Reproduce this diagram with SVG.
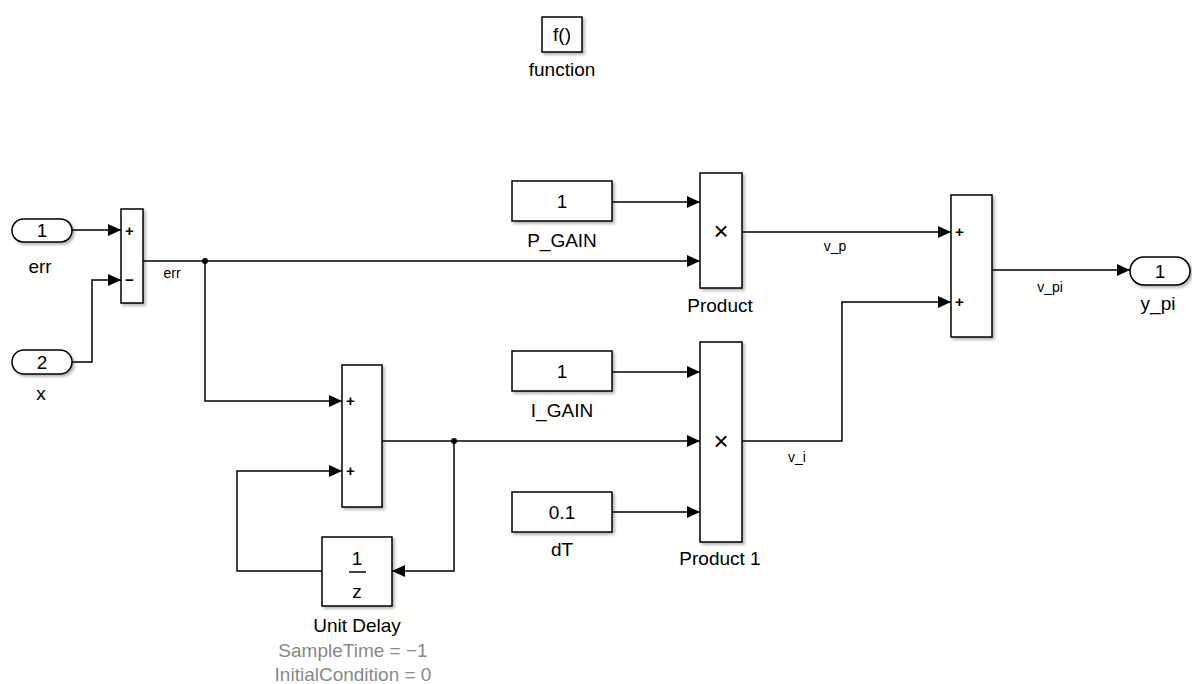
<svg xmlns="http://www.w3.org/2000/svg" width="1192" height="684" viewBox="0 0 1192 684">
<style>
.blk{fill:#fff;stroke:#000;stroke-width:1.5;filter:url(#sh)}
.w{fill:none;stroke:#000;stroke-width:1.5}
.t{font-family:"Liberation Sans",Arial,sans-serif;font-size:19px;fill:#000;text-anchor:middle}
.x{font-family:"Liberation Sans",Arial,sans-serif;font-size:26px;fill:#000;text-anchor:middle}
.s{font-family:"Liberation Sans",Arial,sans-serif;font-size:14px;fill:#000;text-anchor:middle}
.g{font-family:"Liberation Sans",Arial,sans-serif;font-size:19px;fill:#888;text-anchor:middle}
.p{font-family:"Liberation Sans",Arial,sans-serif;font-size:15px;fill:#000;text-anchor:start;font-weight:bold}
</style>
<defs>
<filter id="sh" x="-20%" y="-20%" width="140%" height="140%">
<feDropShadow dx="2" dy="2" stdDeviation="1.5" flood-color="#000" flood-opacity="0.3"/>
</filter>
<marker id="ar" markerUnits="userSpaceOnUse" markerWidth="14" markerHeight="12" refX="13" refY="6" orient="auto">
<path d="M0,0 L13,6 L0,12 Z" fill="#000"/>
</marker>
</defs>
<rect width="1192" height="684" fill="#fff"/>

<g id="connectors">
<path class="w" d="M72,230 H121" marker-end="url(#ar)"/>
<path class="w" d="M72,362 H92 V280 H121" marker-end="url(#ar)"/>
<path class="w" d="M143,261 H700" marker-end="url(#ar)"/>
<path class="w" d="M205,261 V401 H342" marker-end="url(#ar)"/>
<path class="w" d="M382,441 H700" marker-end="url(#ar)"/>
<path class="w" d="M454,441 V571 H392" marker-end="url(#ar)"/>
<path class="w" d="M322,571 H237 V471 H342" marker-end="url(#ar)"/>
<path class="w" d="M612,202 H700" marker-end="url(#ar)"/>
<path class="w" d="M612,372 H700" marker-end="url(#ar)"/>
<path class="w" d="M612,512 H700" marker-end="url(#ar)"/>
<path class="w" d="M742,232 H951" marker-end="url(#ar)"/>
<path class="w" d="M742,441 H842 V302 H951" marker-end="url(#ar)"/>
<path class="w" d="M992,270 H1130" marker-end="url(#ar)"/>
<circle cx="205" cy="261" r="3" fill="#000"/>
<circle cx="454" cy="441" r="3" fill="#000"/>
<text class="s" x="172" y="278">err</text>
<text class="s" x="835" y="251">v_p</text>
<text class="s" x="797" y="462">v_i</text>
<text class="s" x="1050" y="292">v_pi</text>
</g>

<g id="function">
<rect class="blk" x="542" y="17" width="40" height="35"/>
<text class="t" x="562" y="41">f()</text>
<text class="t" x="562" y="76">function</text>
</g>

<g id="in_err">
<rect class="blk" x="12" y="219" width="60" height="23" rx="11.5"/>
<text class="t" x="42" y="237">1</text>
<text class="t" x="40" y="273">err</text>
</g>

<g id="in_x">
<rect class="blk" x="12" y="350" width="60" height="24" rx="12"/>
<text class="t" x="42" y="369">2</text>
<text class="t" x="41" y="400">x</text>
</g>

<g id="sum1">
<rect class="blk" x="121" y="209" width="22" height="94"/>
<text class="p" x="125" y="236">+</text>
<text class="p" x="125" y="285">−</text>
</g>

<g id="sum2">
<rect class="blk" x="342" y="365" width="40" height="142"/>
<text class="p" x="346" y="406">+</text>
<text class="p" x="346" y="476">+</text>
</g>

<g id="unit_delay">
<rect class="blk" x="322" y="537" width="70" height="69"/>
<text class="t" x="357" y="565">1</text>
<line x1="349" y1="572" x2="366" y2="572" stroke="#000" stroke-width="1.5"/>
<text class="t" x="357" y="598">z</text>
<text class="t" x="357" y="632">Unit Delay</text>
<text class="g" x="353" y="657">SampleTime = −1</text>
<text class="g" x="353" y="681">InitialCondition = 0</text>
</g>

<g id="p_gain">
<rect class="blk" x="512" y="181" width="100" height="40"/>
<text class="t" x="562" y="208">1</text>
<text class="t" x="562" y="247">P_GAIN</text>
</g>

<g id="i_gain">
<rect class="blk" x="512" y="351" width="100" height="40"/>
<text class="t" x="562" y="378">1</text>
<text class="t" x="562" y="417">I_GAIN</text>
</g>

<g id="dT">
<rect class="blk" x="512" y="492" width="100" height="40"/>
<text class="t" x="562" y="519">0.1</text>
<text class="t" x="562" y="556">dT</text>
</g>

<g id="product">
<rect class="blk" x="700" y="173" width="42" height="115"/>
<text class="x" x="721" y="240">×</text>
<text class="t" x="720" y="312">Product</text>
</g>

<g id="product1">
<rect class="blk" x="700" y="342" width="42" height="200"/>
<text class="x" x="721" y="450">×</text>
<text class="t" x="720" y="565">Product 1</text>
</g>

<g id="sum3">
<rect class="blk" x="951" y="195" width="41" height="142"/>
<text class="p" x="955" y="237">+</text>
<text class="p" x="955" y="307">+</text>
</g>

<g id="out_y_pi">
<rect class="blk" x="1130" y="257" width="60" height="28" rx="14"/>
<text class="t" x="1160" y="278">1</text>
<text class="t" x="1158" y="310">y_pi</text>
</g>
</svg>
